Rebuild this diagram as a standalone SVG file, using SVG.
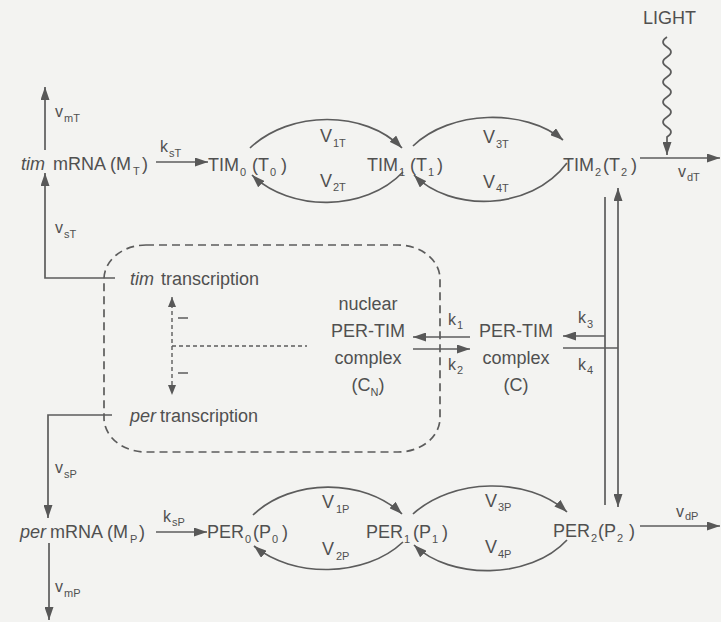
<svg xmlns="http://www.w3.org/2000/svg" width="721" height="622" viewBox="0 0 721 622">
<defs>
<marker id="ah" markerWidth="13" markerHeight="9" refX="13" refY="4.5" orient="auto-start-reverse" markerUnits="userSpaceOnUse"><path d="M0,0 L13,4.5 L0,9 z" fill="#585858"/></marker>
<marker id="ahs" markerWidth="10" markerHeight="8" refX="10" refY="4" orient="auto-start-reverse" markerUnits="userSpaceOnUse"><path d="M0,0 L10,4 L0,8 z" fill="#585858"/></marker>
</defs>
<style>
.t{font-family:"Liberation Sans",Arial,Helvetica,sans-serif;font-size:18px;fill:#505050}
.s{font-size:11px}
.k{font-size:16px}
.i{font-style:italic}
.ln{fill:none;stroke:#5c5c5c;stroke-width:1.7}
.a{marker-end:url(#ah)}
.b{marker-start:url(#ah);marker-end:url(#ah)}
.d{stroke-dasharray:8 5}
.dt{stroke-dasharray:4 3;stroke-width:1.4}
</style>
<rect width="721" height="622" fill="#f3f3f1"/>

<g id="connectors">
  <!-- tim mRNA synthesis / degradation -->
  <path class="ln a" d="M45,150 V87"/>
  <path class="ln a" d="M115,278 H45 V173"/>
  <path class="ln a" d="M156,162 H208"/>
  <!-- TIM phosphorylation -->
  <path class="ln a" d="M250,148 C290,110 365,110 402,148"/>
  <path class="ln a" d="M403,172 C365,212 290,212 252,175"/>
  <path class="ln a" d="M413,146 C450,110 525,108 563,140"/>
  <path class="ln a" d="M567,163 C530,212 450,212 414,175"/>
  <!-- light -->
  <path class="ln a" d="M667,37 q-8,5 0,10 t0,10 t0,10 t0,10 t0,10 t0,10 t0,10 t0,10 t0,10 t0,10 V155"/>
  <path class="ln a" d="M640,158 H720"/>
  <!-- TIM2/PER2 to complex -->
  <path class="ln" d="M605,197 V505"/>
  <path class="ln b" d="M618,188 V507"/>
  <path class="ln a" d="M605,336 H563"/>
  <path class="ln" d="M563,348 H618"/>
  <!-- complex transport -->
  <path class="ln a" d="M470,337 H413"/>
  <path class="ln a" d="M413,349 H470"/>
  <!-- nucleus boundary -->
  <rect class="ln d" x="104" y="245" width="336" height="207" rx="42" ry="34"/>
  <!-- repression -->
  <path class="ln dt" d="M172,297 V395" marker-start="url(#ahs)" marker-end="url(#ahs)"/>
  <path class="ln" stroke-width="1.4" d="M178,318 H188 M178,373 H188"/>
  <path class="ln dt" d="M172,346 H307"/>
  <!-- per mRNA -->
  <path class="ln a" d="M112,415 H48 V518"/>
  <path class="ln a" d="M49,543 V620"/>
  <path class="ln a" d="M156,532 H207"/>
  <!-- PER phosphorylation -->
  <path class="ln a" d="M253,515 C292,478 364,478 402,514"/>
  <path class="ln a" d="M403,542 C365,578 292,578 254,546"/>
  <path class="ln a" d="M413,514 C452,478 528,476 567,512"/>
  <path class="ln a" d="M567,540 C530,580 450,580 414,545"/>
  <path class="ln a" d="M640,526 H720"/>
</g>

<g id="labels" class="t">
  <text><tspan class="k" x="55" y="117">v</tspan><tspan class="s" x="64" y="122">mT</tspan></text>
  <text><tspan class="k" x="55" y="233">v</tspan><tspan class="s" x="64" y="238">sT</tspan></text>
  <text><tspan class="k" x="160" y="152">k</tspan><tspan class="s" x="169" y="157">sT</tspan></text>
  <text><tspan x="320" y="142">V</tspan><tspan class="s" x="333" y="147">1T</tspan></text>
  <text><tspan x="320" y="187">V</tspan><tspan class="s" x="333" y="191">2T</tspan></text>
  <text><tspan x="483" y="143">V</tspan><tspan class="s" x="496" y="148">3T</tspan></text>
  <text><tspan x="483" y="188">V</tspan><tspan class="s" x="496" y="192">4T</tspan></text>
  <text><tspan class="k" x="678" y="177">v</tspan><tspan class="s" x="687" y="181">dT</tspan></text>
  <text><tspan class="k" x="448" y="325">k</tspan><tspan class="s" x="457" y="329">1</tspan></text>
  <text><tspan class="k" x="448" y="370">k</tspan><tspan class="s" x="457" y="374">2</tspan></text>
  <text><tspan class="k" x="578" y="323">k</tspan><tspan class="s" x="587" y="328">3</tspan></text>
  <text><tspan class="k" x="578" y="370">k</tspan><tspan class="s" x="587" y="374">4</tspan></text>
  <text><tspan class="k" x="55" y="473">v</tspan><tspan class="s" x="64" y="478">sP</tspan></text>
  <text><tspan class="k" x="163" y="522">k</tspan><tspan class="s" x="172" y="526">sP</tspan></text>
  <text><tspan class="k" x="55" y="592">v</tspan><tspan class="s" x="64" y="597">mP</tspan></text>
  <text><tspan x="322" y="508">V</tspan><tspan class="s" x="336" y="513">1P</tspan></text>
  <text><tspan x="322" y="555">V</tspan><tspan class="s" x="336" y="560">2P</tspan></text>
  <text><tspan x="485" y="507">V</tspan><tspan class="s" x="498" y="511">3P</tspan></text>
  <text><tspan x="485" y="553">V</tspan><tspan class="s" x="498" y="558">4P</tspan></text>
  <text><tspan class="k" x="676" y="517">v</tspan><tspan class="s" x="685" y="520">dP</tspan></text>
</g>

<g id="light"><text class="t" x="643" y="24">LIGHT</text></g>

<g id="timmRNA"><text class="t"><tspan class="i" x="21" y="170">tim</tspan><tspan x="53" y="170">mRNA (M</tspan><tspan class="s" x="133" y="175">T</tspan><tspan x="142" y="170">)</tspan></text></g>
<g id="T0"><text class="t"><tspan x="208" y="171">TIM</tspan><tspan class="s" x="240" y="176">0</tspan><tspan x="252" y="171">(T</tspan><tspan class="s" x="270" y="176">0</tspan><tspan x="281" y="171">)</tspan></text></g>
<g id="T1"><text class="t"><tspan x="367" y="171">TIM</tspan><tspan class="s" x="399" y="176">1</tspan><tspan x="410" y="171">(T</tspan><tspan class="s" x="428" y="176">1</tspan><tspan x="437" y="171">)</tspan></text></g>
<g id="T2"><text class="t"><tspan x="563" y="171">TIM</tspan><tspan class="s" x="595" y="176">2</tspan><tspan x="603" y="171">(T</tspan><tspan class="s" x="621" y="176">2</tspan><tspan x="631" y="171">)</tspan></text></g>

<g id="timTx"><text class="t"><tspan class="i" x="130" y="285">tim</tspan><tspan x="161" y="285">transcription</tspan></text></g>
<g id="perTx"><text class="t"><tspan class="i" x="130" y="422">per</tspan><tspan x="160" y="422">transcription</tspan></text></g>

<g id="CN"><text class="t" text-anchor="middle"><tspan x="368" y="310">nuclear</tspan><tspan x="368" y="337">PER-TIM</tspan><tspan x="368" y="364">complex</tspan></text><text class="t" x="368" y="391" text-anchor="middle">(C<tspan class="s" dy="5">N</tspan><tspan dy="-5">)</tspan></text></g>
<g id="C"><text class="t" text-anchor="middle"><tspan x="516" y="337">PER-TIM</tspan><tspan x="516" y="364">complex</tspan><tspan x="516" y="391">(C)</tspan></text></g>

<g id="permRNA"><text class="t"><tspan class="i" x="20" y="538">per</tspan><tspan x="50" y="538">mRNA (M</tspan><tspan class="s" x="130" y="543">P</tspan><tspan x="139" y="538">)</tspan></text></g>
<g id="P0"><text class="t"><tspan x="207" y="538">PER</tspan><tspan class="s" x="245" y="543">0</tspan><tspan x="253" y="538">(P</tspan><tspan class="s" x="272" y="543">0</tspan><tspan x="282" y="538">)</tspan></text></g>
<g id="P1"><text class="t"><tspan x="366" y="538">PER</tspan><tspan class="s" x="404" y="543">1</tspan><tspan x="413" y="538">(P</tspan><tspan class="s" x="432" y="543">1</tspan><tspan x="442" y="538">)</tspan></text></g>
<g id="P2"><text class="t"><tspan x="553" y="537">PER</tspan><tspan class="s" x="591" y="542">2</tspan><tspan x="598" y="537">(P</tspan><tspan class="s" x="617" y="542">2</tspan><tspan x="629" y="537">)</tspan></text></g>
</svg>
